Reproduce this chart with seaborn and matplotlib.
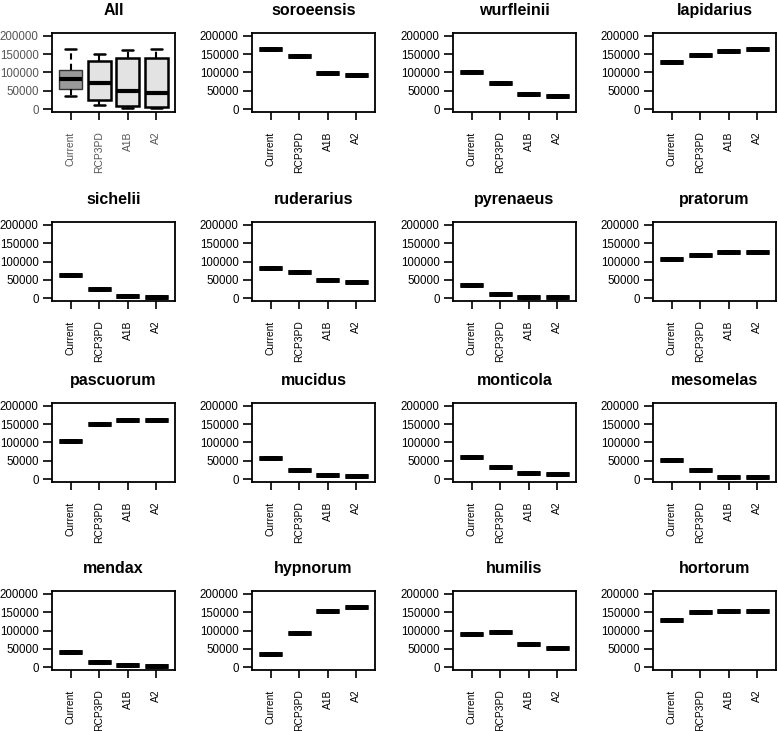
import matplotlib
matplotlib.use("Agg")
import matplotlib.pyplot as plt
import seaborn as sns
import pandas as pd

# scenarios on the x axis
scenarios = ["Current", "RCP3PD", "A1B", "A2"]

# range size per species and scenario
soroeensis = [165000, 144000, 98000, 92000]
wurfleinii = [101000, 72000, 41000, 37000]
lapidarius = [130000, 148000, 160000, 164000]
sichelii = [62000, 25000, 6000, 4000]
ruderarius = [83000, 71000, 50000, 44000]
pyrenaeus = [36000, 11000, 3000, 3000]
pratorum = [108000, 119000, 125000, 127000]
pascuorum = [105000, 150000, 162000, 162000]
mucidus = [57000, 26000, 11000, 9000]
monticola = [60000, 33000, 17000, 13000]
mesomelas = [51000, 24000, 6000, 5000]
mendax = [41000, 15000, 5000, 4000]
hypnorum = [37000, 93000, 152000, 163000]
humilis = [90000, 95000, 62000, 52000]
hortorum = [128000, 150000, 153000, 152000]

species_names = ["soroeensis", "wurfleinii", "lapidarius", "sichelii",
                 "ruderarius", "pyrenaeus", "pratorum", "pascuorum",
                 "mucidus", "monticola", "mesomelas", "mendax",
                 "hypnorum", "humilis", "hortorum"]
species_values = [soroeensis, wurfleinii, lapidarius, sichelii,
                  ruderarius, pyrenaeus, pratorum, pascuorum,
                  mucidus, monticola, mesomelas, mendax,
                  hypnorum, humilis, hortorum]

yticks = [0, 50000, 100000, 150000, 200000]

rows = []
for name, vals in zip(species_names, species_values):
    for sc, v in zip(scenarios, vals):
        rows.append({"species": name, "scenario": sc, "value": v})
df = pd.DataFrame(rows)

sns.set_style("ticks")
plt.rcParams["font.family"] = ["Liberation Sans", "DejaVu Sans"]

W, H = 778, 731
fig = plt.figure(figsize=(W / 100, H / 100), dpi=100)

col_left = [52, 252, 453, 653]
row_top = [33, 222, 403, 591]
ax_w, ax_h = 123, 79


def make_ax(i):
    r, c = divmod(i, 4)
    left = col_left[c] / W
    bottom = 1 - (row_top[r] + ax_h) / H
    return fig.add_axes([left, bottom, ax_w / W, ax_h / H])


def style_ax(ax, title, tick_color="black"):
    ax.set_xlim(-0.66, 3.66)
    ax.set_ylim(-8000, 208000)
    ax.set_yticks(yticks)
    ax.set_yticklabels([str(t) for t in yticks])
    ax.set_xticks(range(4))
    ax.set_xticklabels(scenarios, rotation=90)
    ax.set_xlabel("")
    ax.set_ylabel("")
    ax.tick_params(axis="y", length=6.5, width=1.2, labelsize=8.3,
                   pad=3, colors="black", labelcolor=tick_color)
    ax.tick_params(axis="x", length=6, width=1.2, labelsize=7.4,
                   pad=8, colors="black", labelcolor=tick_color)
    for sp in ax.spines.values():
        sp.set_visible(True)
        sp.set_linewidth(1.3)
        sp.set_color("black")
    ax.set_title(title, fontsize=11.5, fontweight="bold", pad=13,
                 color="black")


# first panel: spread over all species
ax = make_ax(0)
all_colors = {"Current": "#9a9a9a", "RCP3PD": "#e3e3e3",
              "A1B": "#e3e3e3", "A2": "#e3e3e3"}
sns.boxplot(data=df, x="scenario", y="value", hue="scenario",
            order=scenarios, hue_order=scenarios, palette=all_colors,
            dodge=False, width=0.8, linecolor="black", linewidth=1.8,
            legend=False, ax=ax)
for k, bc in enumerate(ax.containers):
    for b in bc.boxes:
        b.set_linewidth(1.0 if k == 0 else 1.8)
        b.set_edgecolor("#333333" if k == 0 else "black")
    for m in bc.medians:
        m.set_linewidth(3)
    for wl in bc.whiskers:
        wl.set_linestyle((0, (3, 2)))
        wl.set_linewidth(1.5)
    for cp in bc.caps:
        cp.set_linewidth(1.8)
style_ax(ax, "All", tick_color="#555555")

# one panel per species
for i, name in enumerate(species_names, start=1):
    ax = make_ax(i)
    sub = df[df["species"] == name]
    sns.boxplot(data=sub, x="scenario", y="value", order=scenarios,
                width=0.8, color="black", linecolor="black",
                linewidth=3.3, ax=ax)
    style_ax(ax, name)

fig.savefig("out.png", dpi=100)
